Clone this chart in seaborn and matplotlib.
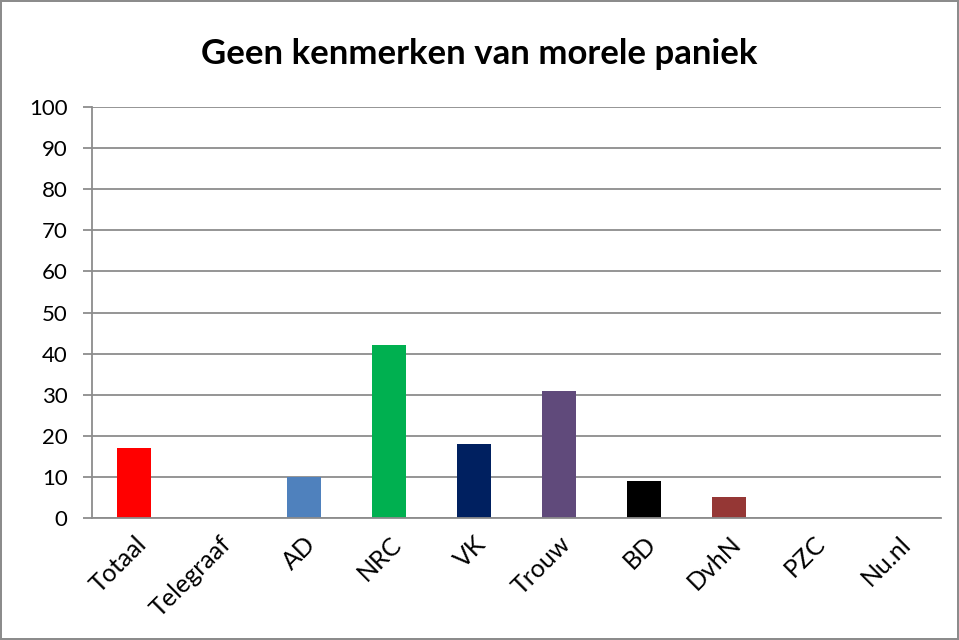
import matplotlib
matplotlib.use('Agg')
import matplotlib.pyplot as plt
import seaborn as sns
import pandas as pd
import numpy as np

# --- Data ---
kranten = ['Totaal', 'Telegraaf', 'AD', 'NRC', 'VK', 'Trouw', 'BD', 'DvhN', 'PZC', 'Nu.nl']
percentages = [17, 0, 10, 42, 18, 31, 9, 5, 0, 0]
kleuren = ['#FF0000', '#C0C0C0', '#4F81BD', '#00B050', '#002060',
           '#604A7B', '#000000', '#953735', '#C0C0C0', '#C0C0C0']

df = pd.DataFrame({'krant': kranten, 'pct': percentages})

sns.set_style('white')
plt.rcParams['font.family'] = ['Lato', 'DejaVu Sans']

fig = plt.figure(figsize=(9.59, 6.4), dpi=100, edgecolor='#8C8C8C', linewidth=1.5)
ax = fig.add_axes([0.0959, 0.1906, 0.8853, 0.6422])

sns.barplot(data=df, x='krant', y='pct', hue='krant', palette=kleuren,
            legend=False, width=0.4, ax=ax, saturation=1, linewidth=0)

ax.set_ylim(0, 100)
ax.set_xlim(-0.5, len(kranten) - 0.5)
ax.set_yticks(range(0, 101, 10))
ax.yaxis.grid(True, color='#8C8C8C', linewidth=1.3)
ax.set_axisbelow(True)

for s in ['top', 'right']:
    ax.spines[s].set_visible(False)
for s in ['left', 'bottom']:
    ax.spines[s].set_color('#8C8C8C')
    ax.spines[s].set_linewidth(1.3)

# category boundary ticks on the x axis
ax.set_xticks(np.arange(-0.5, len(kranten), 1.0), minor=True)
ax.tick_params(axis='x', which='minor', length=5.5, color='#8C8C8C', width=1.3, direction='out')
ax.tick_params(axis='x', which='major', length=0, pad=10)
ax.tick_params(axis='y', length=6.5, color='#8C8C8C', width=1.3, direction='out', left=True, pad=11)
ax.set_xticks(range(len(kranten)))
ax.set_xticklabels(kranten, rotation=45, ha='right', rotation_mode='anchor', fontsize=18, color='black')
plt.setp(ax.get_yticklabels(), fontsize=16, color='black')
ax.set_xlabel('')
ax.set_ylabel('')

fig.suptitle('Geen kenmerken van morele paniek', fontsize=25, fontweight='bold',
             color='black', y=0.94)

fig.savefig('out.png', dpi=100, edgecolor=fig.get_edgecolor())
